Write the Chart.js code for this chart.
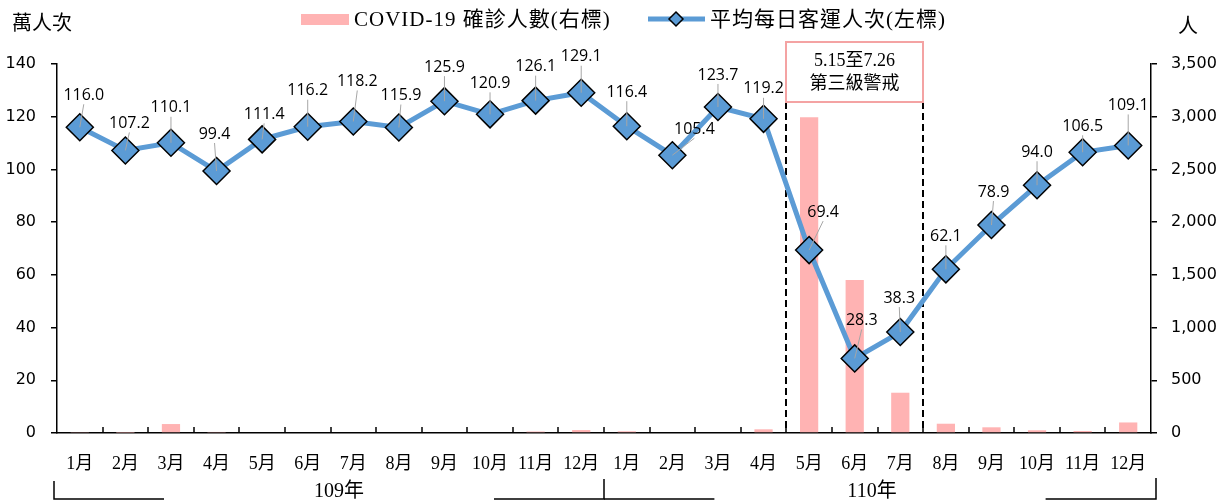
<!DOCTYPE html>
<html>
<head>
<meta charset="utf-8">
<script src="https://cdn.jsdelivr.net/npm/chart.js@4.4.1/dist/chart.umd.min.js"></script>
<style>
    html, body { margin: 0; padding: 0; background: #fff; }
    #grafico { display: block; }
</style>
</head>
<body>
<canvas id="grafico" width="1228" height="504"></canvas>
<script>
// dados
const meses = ['1月', '2月', '3月', '4月', '5月', '6月', '7月', '8月', '9月', '10月', '11月', '12月',
    '1月', '2月', '3月', '4月', '5月', '6月', '7月', '8月', '9月', '10月', '11月', '12月'];
const anos = ['109年', '110年'];
const passageirosDia = [116.0, 107.2, 110.1, 99.4, 111.4, 116.2, 118.2, 115.9, 125.9, 120.9, 126.1, 129.1,
    116.4, 105.4, 123.7, 119.2, 69.4, 28.3, 38.3, 62.1, 78.9, 94.0, 106.5, 109.1];
const casosCovid = [5, 3, 85, 10, 0, 0, 0, 0, 0, 0, 14, 28,
    16, 0, 0, 35, 2995, 1451, 382, 88, 54, 26, 19, 100];
const ticksEsquerda = [0, 20, 40, 60, 80, 100, 120, 140];
const ticksDireita = [0, 500, 1000, 1500, 2000, 2500, 3000, 3500];
const legendaBarra = 'COVID-19 確診人數(右標)';
const legendaLinha = '平均每日客運人次(左標)';
const textoAlerta = ['5.15至7.26', '第三級警戒'];
const periodoAlerta = [16, 19]; // índice do 1º mês e do mês após o alerta

const corLinha = '#5b9bd5';
const corBarra = '#ffb3b3';
const fonteSerif = '"Liberation Serif", "Noto Sans CJK TC", serif';

// deslocamento dos rótulos em relação ao marcador
const deslocRotulos = [
    [4, -32], [4, -27], [0, -35], [-2, -37], [2, -25], [0, -36], [4, -40], [2, -32],
    [0, -34], [0, -31], [0, -34], [0, -36], [0, -34], [22, -26], [0, -32], [0, -30],
    [14, -38], [7, -38], [-1, -34], [0, -33], [2, -33], [0, -33], [0, -26], [0, -40]
];

const pluginDesenhos = {
    id: 'desenhos',
    beforeDatasetsDraw(chart) {
        const ctx = chart.ctx;
        const x = chart.scales.x;
        const area = chart.chartArea;
        const limite = (i) => (x.getPixelForValue(i - 1) + x.getPixelForValue(i)) / 2;

        // linhas tracejadas do alerta
        ctx.save();
        ctx.strokeStyle = '#000';
        ctx.lineWidth = 2;
        ctx.setLineDash([7, 4]);
        periodoAlerta.forEach((i) => {
            const px = Math.round(limite(i));
            ctx.beginPath();
            ctx.moveTo(px, 102);
            ctx.lineTo(px, area.bottom);
            ctx.stroke();
        });
        ctx.restore();
    },
    afterDatasetsDraw(chart) {
        const ctx = chart.ctx;
        const meta = chart.getDatasetMeta(1);

        ctx.save();
        ctx.font = '16px "Open Sans", "DejaVu Sans", sans-serif';
        ctx.textAlign = 'center';
        ctx.textBaseline = 'middle';
        meta.data.forEach((pt, i) => {
            const [dx, dy] = deslocRotulos[i];
            const lx = pt.x + dx;
            const ly = pt.y + dy;
            ctx.strokeStyle = '#a6a6a6';
            ctx.lineWidth = 1;
            ctx.beginPath();
            ctx.moveTo(pt.x, pt.y);
            ctx.lineTo(lx, ly + 9);
            ctx.stroke();
            ctx.fillStyle = '#000';
            ctx.fillText(passageirosDia[i].toFixed(1), lx, ly);
        });
        ctx.restore();
    },
    afterDraw(chart) {
        const ctx = chart.ctx;
        const x = chart.scales.x;
        const area = chart.chartArea;
        const limite = (i) => (x.getPixelForValue(i - 1) + x.getPixelForValue(i)) / 2;

        ctx.save();

        // marcas do eixo x (para dentro)
        ctx.strokeStyle = '#000';
        ctx.lineWidth = 1.5;
        for (let i = 1; i < meses.length; i++) {
            const px = Math.round(limite(i));
            ctx.beginPath();
            ctx.moveTo(px, area.bottom);
            ctx.lineTo(px, area.bottom - 6);
            ctx.stroke();
        }

        // caixa do alerta
        const x0 = Math.round(limite(periodoAlerta[0]));
        const x1 = Math.round(limite(periodoAlerta[1]));
        ctx.fillStyle = '#fff';
        ctx.fillRect(x0, 42, x1 - x0, 60);
        ctx.strokeStyle = '#f4a3a3';
        ctx.lineWidth = 2;
        ctx.strokeRect(x0, 42, x1 - x0, 60);
        ctx.fillStyle = '#000';
        ctx.font = '18px ' + fonteSerif;
        ctx.textAlign = 'center';
        ctx.textBaseline = 'middle';
        ctx.fillText(textoAlerta[0], (x0 + x1) / 2, 61);
        ctx.fillText(textoAlerta[1], (x0 + x1) / 2, 84);

        // títulos dos eixos
        ctx.font = '20px ' + fonteSerif;
        ctx.textAlign = 'left';
        ctx.fillText('萬人次', 12, 25);
        ctx.fillText('人', 1178, 28);

        // agrupamento por ano
        ctx.strokeStyle = '#000';
        ctx.lineWidth = 1.5;
        ctx.font = '20px ' + fonteSerif;
        ctx.textAlign = 'center';
        const ajusteAno = [10, -8];
        anos.forEach((ano, k) => {
            const g0 = k == 0 ? area.left - 3 : Math.round(limite(12));
            const g1 = k == 0 ? Math.round(limite(12)) : area.right + 5;
            const w = g1 - g0;
            ctx.beginPath();
            if (k == 0) {
                ctx.moveTo(g0, 481);
                ctx.lineTo(g0, 499);
                ctx.lineTo(g0 + w * 0.2, 499);
                ctx.moveTo(g0 + w * 0.8, 499);
                ctx.lineTo(g1, 499);
                ctx.lineTo(g1, 479);
            } else {
                ctx.moveTo(g0, 499);
                ctx.lineTo(g0 + w * 0.2, 499);
                ctx.moveTo(g0 + w * 0.8, 499);
                ctx.lineTo(g1, 499);
                ctx.lineTo(g1, 478);
            }
            ctx.stroke();
            ctx.fillText(ano, (g0 + g1) / 2 + ajusteAno[k], 492);
        });

        // legenda
        ctx.font = '21px ' + fonteSerif;
        ctx.letterSpacing = '1px';
        ctx.textAlign = 'left';
        ctx.fillStyle = corBarra;
        ctx.fillRect(301, 14, 48, 11);
        ctx.fillStyle = '#000';
        ctx.fillText(legendaBarra, 354, 20);

        ctx.strokeStyle = corLinha;
        ctx.lineWidth = 5;
        ctx.beginPath();
        ctx.moveTo(648, 19);
        ctx.lineTo(705, 19);
        ctx.stroke();
        ctx.beginPath();
        ctx.moveTo(676, 12);
        ctx.lineTo(683, 19);
        ctx.lineTo(676, 26);
        ctx.lineTo(669, 19);
        ctx.closePath();
        ctx.fillStyle = corLinha;
        ctx.fill();
        ctx.strokeStyle = '#000';
        ctx.lineWidth = 1.5;
        ctx.stroke();
        ctx.fillStyle = '#000';
        ctx.fillText(legendaLinha, 710, 20);

        ctx.restore();
    }
};

let data = {
    labels: meses,
    datasets: [
        {
            type: 'bar',
            label: legendaBarra,
            data: casosCovid,
            yAxisID: 'y1',
            backgroundColor: corBarra,
            barPercentage: 0.4,
            categoryPercentage: 1,
            order: 1
        },
        {
            type: 'line',
            label: legendaLinha,
            data: passageirosDia,
            yAxisID: 'y',
            borderColor: corLinha,
            borderWidth: 5,
            tension: 0,
            pointStyle: 'rectRot',
            pointRadius: 13.5,
            pointHoverRadius: 13.5,
            pointBackgroundColor: corLinha,
            pointBorderColor: '#000',
            pointBorderWidth: 1.5,
            order: 0
        }
    ]
}

let options = {
    responsive: false,
    animation: false,
    devicePixelRatio: 1,
    layout: {
        padding: { top: 64, left: 0, right: 0, bottom: 0 }
    },
    scales: {
        x: {
            offset: true,
            grid: { display: false },
            border: { display: true, color: '#000', width: 1.5 },
            ticks: {
                color: '#000',
                font: { family: fonteSerif, size: 18 },
                padding: 12,
                maxRotation: 0,
                autoSkip: false
            },
            afterFit: (scale) => { scale.height = 71; }
        },
        y: {
            position: 'left',
            min: 0,
            max: 140,
            afterBuildTicks: (scale) => { scale.ticks = ticksEsquerda.map((v) => ({ value: v })); },
            grid: { drawOnChartArea: false, drawTicks: true, tickLength: 6, color: '#000', lineWidth: 1.5 },
            border: { display: true, color: '#000', width: 1.5 },
            ticks: {
                color: '#000',
                font: { family: '"DejaVu Sans", sans-serif', size: 16 },
                padding: 15
            },
            afterFit: (scale) => { scale.width = 57; }
        },
        y1: {
            position: 'right',
            min: 0,
            max: 3500,
            afterBuildTicks: (scale) => { scale.ticks = ticksDireita.map((v) => ({ value: v })); },
            grid: { drawOnChartArea: false, drawTicks: true, tickLength: 6, color: '#000', lineWidth: 1.5 },
            border: { display: true, color: '#000', width: 1.5 },
            ticks: {
                color: '#000',
                font: { family: '"DejaVu Sans", sans-serif', size: 16 },
                padding: 14,
                callback: (v) => v.toLocaleString('en-US')
            },
            afterFit: (scale) => { scale.width = 77; }
        }
    },
    plugins: {
        legend: { display: false },
        tooltip: { enabled: false }
    }
}

new Chart(document.getElementById('grafico'), {
    type: 'bar',
    data: data,
    options: options,
    plugins: [pluginDesenhos]
});
</script>
</body>
</html>
